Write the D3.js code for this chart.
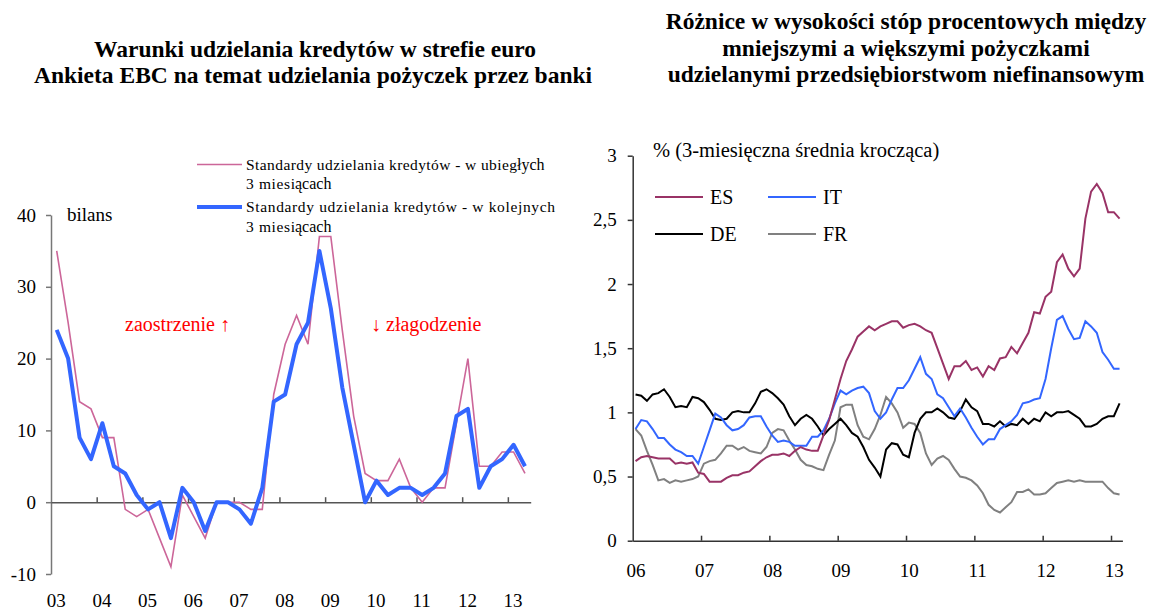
<!DOCTYPE html>
<html>
<head>
<meta charset="utf-8">
<script src="https://cdn.jsdelivr.net/npm/d3@7"></script>
<style>
body { margin: 0; background: #fff; }
svg { display: block; }
text { font-family: "Liberation Serif", "Times New Roman", serif; }
</style>
</head>
<body>
<div id="chart"></div>
<script>
// left panel: quarterly balances, 2003 Q1 - 2013 Q2
const leftYears = ["03", "04", "05", "06", "07", "08", "09", "10", "11", "12", "13"];
const pastStandards = [35, 25, 14, 13, 9, 9, -1, -2, -1, -5, -9, 1, -2, -5, 0, 0, 0, -1, -1, 15, 22,
    26, 22, 37, 37, 24, 12, 4, 3, 3, 6, 2, 0, 2, 2, 11, 20, 5, 5, 7, 7, 4];
const nextStandards = [24, 20, 9, 6, 11, 5, 4, 1, -1, 0, -5, 2, 0, -4, 0, 0, -1, -3, 2, 14, 15,
    22, 25, 35, 27, 16, 8, 0, 3, 1, 2, 2, 1, 2, 4, 12, 13, 2, 5, 6, 8, 5];
const leftTicks = [-10, 0, 10, 20, 30, 40];

// right panel: monthly spreads, Jan 2006 - Feb 2013
const rightYears = ["06", "07", "08", "09", "10", "11", "12", "13"];
const es = [0.62, 0.65, 0.66, 0.65, 0.64, 0.64, 0.64, 0.60, 0.61, 0.60, 0.61, 0.53, 0.52, 0.46, 0.46, 0.46,
    0.49, 0.51, 0.51, 0.53, 0.54, 0.58, 0.62, 0.65, 0.67, 0.67, 0.68, 0.66, 0.70, 0.73, 0.71, 0.70, 0.70,
    0.82, 0.94, 1.10, 1.26, 1.40, 1.49, 1.59, 1.63, 1.67, 1.64,
    1.67, 1.69, 1.71, 1.71, 1.66, 1.68, 1.69, 1.67, 1.64, 1.62, 1.50, 1.38, 1.26, 1.36, 1.36, 1.40, 1.33,
    1.35, 1.28, 1.36, 1.33, 1.42, 1.43, 1.51, 1.46, 1.54, 1.62, 1.78, 1.77, 1.90, 1.94, 2.17, 2.23, 2.12,
    2.06, 2.12, 2.51, 2.72, 2.78, 2.71, 2.56, 2.56, 2.51];
const it = [0.87, 0.94, 0.93, 0.87, 0.80, 0.80, 0.75, 0.71, 0.69, 0.66, 0.66, 0.60, 0.73, 0.86, 0.99, 0.96,
    0.90, 0.86, 0.87, 0.90, 0.96, 0.97, 0.97, 0.89, 0.82, 0.77, 0.78, 0.77, 0.74, 0.74, 0.74, 0.81, 0.81,
    0.86, 0.95, 1.07, 1.17, 1.14, 1.17, 1.19, 1.20, 1.15, 1.01,
    0.95, 1.00, 1.10, 1.19, 1.19, 1.25, 1.34, 1.43, 1.30, 1.26, 1.14, 1.11, 1.04, 0.97, 1.03, 0.96, 0.88,
    0.81, 0.75, 0.79, 0.79, 0.87, 0.90, 0.93, 0.98, 1.07, 1.08, 1.10, 1.11, 1.26, 1.50, 1.72, 1.75, 1.65,
    1.57, 1.58, 1.71, 1.67, 1.62, 1.47, 1.41, 1.34, 1.34];
const de = [1.14, 1.13, 1.09, 1.14, 1.15, 1.18, 1.12, 1.04, 1.05, 1.04, 1.12, 1.11, 1.08, 1.02, 0.95, 0.94,
    0.95, 1.00, 1.01, 1.00, 1.00, 1.07, 1.16, 1.18, 1.15, 1.11, 1.06, 0.97, 0.90, 0.95, 0.98, 0.95, 0.89,
    0.82, 0.87, 0.91, 0.95, 0.90, 0.84, 0.81, 0.73, 0.63, 0.57,
    0.50, 0.71, 0.76, 0.75, 0.67, 0.65, 0.84, 0.95, 1.00, 1.00, 1.03, 1.00, 0.96, 0.95, 1.01, 1.10, 1.04,
    1.01, 0.91, 0.91, 0.89, 0.93, 0.89, 0.91, 0.90, 0.95, 0.91, 0.95, 0.93, 1.00, 0.97, 1.00, 1.00, 1.01,
    0.98, 0.95, 0.89, 0.89, 0.91, 0.95, 0.97, 0.97, 1.07];
const fr = [0.87, 0.82, 0.70, 0.59, 0.47, 0.48, 0.45, 0.47, 0.46, 0.47, 0.48, 0.50, 0.60, 0.62, 0.63, 0.68,
    0.74, 0.74, 0.71, 0.73, 0.70, 0.69, 0.68, 0.73, 0.84, 0.87, 0.86, 0.78, 0.71, 0.63, 0.59, 0.58, 0.56,
    0.55, 0.67, 0.78, 1.04, 1.06, 1.06, 0.90, 0.81, 0.79, 0.87,
    0.98, 1.12, 1.07, 1.00, 0.88, 0.92, 0.91, 0.84, 0.68, 0.59, 0.64, 0.66, 0.63, 0.56, 0.50, 0.49, 0.47,
    0.43, 0.37, 0.28, 0.24, 0.22, 0.26, 0.30, 0.38, 0.38, 0.40, 0.36, 0.36, 0.37, 0.41, 0.45, 0.46, 0.47,
    0.46, 0.47, 0.46, 0.46, 0.46, 0.46, 0.41, 0.37, 0.36];
const rightTicks = [0, 0.5, 1, 1.5, 2, 2.5, 3];

const width = 1154, height = 609;

const svg = d3.select("#chart")
    .append("svg")
    .attr("width", width)
    .attr("height", height)
    .attr("viewBox", [0, 0, width, height]);

// ---------- titles ----------
const titles = [
    {x: 315, y: 57, t: "Warunki udzielania kredytów w strefie euro"},
    {x: 313, y: 83, t: "Ankieta EBC na temat udzielania pożyczek przez banki"},
    {x: 906, y: 29, t: "Różnice w wysokości stóp procentowych między"},
    {x: 906, y: 56, t: "mniejszymi a większymi pożyczkami"},
    {x: 906, y: 82, t: "udzielanymi przedsiębiorstwom niefinansowym"}
];
svg.append("g")
    .selectAll("text")
    .data(titles)
    .join("text")
    .attr("x", d => d.x)
    .attr("y", d => d.y)
    .attr("text-anchor", "middle")
    .attr("font-weight", "bold")
    .attr("font-size", 23.5)
    .text(d => d.t);

// ---------- left panel ----------
const lx = d3.scaleLinear()
    .domain([-0.5, pastStandards.length - 0.5])
    .range([51, 530.7]);
const ly = d3.scaleLinear()
    .domain([-10, 40])
    .range([574, 215]);

const lyAxis = svg.append("g")
    .attr("transform", "translate(51,0)")
    .call(d3.axisLeft(ly).tickValues(leftTicks).tickSize(5).tickSizeOuter(0).tickPadding(10)
        .tickFormat(d => String(d)));
lyAxis.select(".domain").attr("stroke", "#777").attr("stroke-width", 1.5);
lyAxis.selectAll(".tick line").attr("stroke", "#777").attr("stroke-width", 1.5);
lyAxis.selectAll(".tick text").attr("font-size", 19).attr("font-family", "Liberation Serif").attr("fill", "#000");

const lxAxis = svg.append("g")
    .attr("transform", `translate(0,${ly(0)})`)
    .call(d3.axisBottom(lx).tickValues(d3.range(3.5, pastStandards.length, 4))
        .tickSize(-5).tickSizeOuter(0).tickFormat(""));
lxAxis.select(".domain").attr("stroke", "#555").attr("stroke-width", 1.5);
lxAxis.selectAll(".tick line").attr("stroke", "#555").attr("stroke-width", 1.5);

const lxLabels = svg.append("g")
    .attr("transform", "translate(-1,591)")
    .call(d3.axisBottom(lx).tickValues(d3.range(0, pastStandards.length, 4))
        .tickSize(0).tickPadding(2).tickFormat((d, i) => leftYears[i]));
lxLabels.select(".domain").remove();
lxLabels.selectAll(".tick text").attr("font-size", 19).attr("font-family", "Liberation Serif").attr("fill", "#000");

const lline = d3.line().x((d, i) => lx(i)).y(d => ly(d));

svg.append("path")
    .datum(pastStandards)
    .attr("fill", "none")
    .attr("stroke", "#CC6699")
    .attr("stroke-width", 1.6)
    .attr("d", lline);

svg.append("path")
    .datum(nextStandards)
    .attr("fill", "none")
    .attr("stroke", "#3366FF")
    .attr("stroke-width", 4)
    .attr("stroke-linejoin", "round")
    .attr("d", lline);

svg.append("text")
    .attr("x", 67).attr("y", 221)
    .attr("font-size", 19)
    .text("bilans");

svg.append("text")
    .attr("x", 125).attr("y", 331)
    .attr("font-size", 20)
    .attr("fill", "#FF0000")
    .text("zaostrzenie ↑");

svg.append("text")
    .attr("x", 371).attr("y", 331)
    .attr("font-size", 20)
    .attr("fill", "#FF0000")
    .text("↓ złagodzenie");

// left legend
const leftLegend = [
    {y: 164.5, color: "#CC6699", w: 1.6,
     rows: [[{t: "Standardy udzielania kredytów - w ubieg", len: 271}, {t: "łych", sans: true}],
            [{t: "3 miesi", len: 49}, {t: "ącach", sans: true}]]},
    {y: 207, color: "#3366FF", w: 4,
     rows: [[{t: "Standardy udzielania kredytów - w kolejnych", len: 309}],
            [{t: "3 miesi", len: 49}, {t: "ącach", sans: true}]]}
];
const lg = svg.append("g");
leftLegend.forEach(item => {
    lg.append("line")
        .attr("x1", 197).attr("x2", 242)
        .attr("y1", item.y).attr("y2", item.y)
        .attr("stroke", item.color)
        .attr("stroke-width", item.w);
    item.rows.forEach((row, r) => {
        let x = 246;
        const y = item.y + 5 + r * 19.5;
        row.forEach(part => {
            const t = lg.append("text")
                .attr("x", x).attr("y", y)
                .attr("font-size", part.sans ? 16 : 15.5)
                .text(part.t);
            if (part.sans) {
                t.attr("font-family", "Liberation Sans, Arial, sans-serif");
            } else {
                t.attr("textLength", part.len).attr("lengthAdjust", "spacing");
            }
            x += part.len || t.node().getComputedTextLength();
        });
    });
});

// ---------- right panel ----------
const rx = d3.scaleLinear()
    .domain([-0.5, es.length - 0.5])
    .range([632.7, 1122.4]);
const ry = d3.scaleLinear()
    .domain([0, 3])
    .range([540.7, 155.7]);

const ryAxis = svg.append("g")
    .attr("transform", "translate(632.7,0)")
    .call(d3.axisLeft(ry).tickValues(rightTicks).tickSize(5).tickSizeOuter(0).tickPadding(11)
        .tickFormat(d => String(d).replace(".", ",")));
ryAxis.select(".domain").attr("stroke", "#333").attr("stroke-width", 1.5);
ryAxis.selectAll(".tick line").attr("stroke", "#333").attr("stroke-width", 1.5);
ryAxis.selectAll(".tick text").attr("font-size", 19).attr("font-family", "Liberation Serif").attr("fill", "#000");

const rxAxis = svg.append("g")
    .attr("transform", `translate(0,${ry(0)})`)
    .call(d3.axisBottom(rx).tickValues(d3.range(11.5, es.length, 12))
        .tickSize(-5).tickSizeOuter(0).tickFormat(""));
rxAxis.select(".domain").attr("stroke", "#333").attr("stroke-width", 1.5);
rxAxis.selectAll(".tick line").attr("stroke", "#333").attr("stroke-width", 1.5);

const rxLabels = svg.append("g")
    .attr("transform", "translate(0,561)")
    .call(d3.axisBottom(rx).tickValues(d3.range(0, es.length, 12))
        .tickSize(0).tickPadding(2).tickFormat((d, i) => rightYears[i]));
rxLabels.select(".domain").remove();
rxLabels.selectAll(".tick text").attr("font-size", 19).attr("font-family", "Liberation Serif").attr("fill", "#000");

svg.append("text")
    .attr("x", 653).attr("y", 157)
    .attr("font-size", 20.5)
    .text("% (3-miesięczna średnia krocząca)");

const rightSeries = [
    {name: "FR", values: fr, color: "#808080", lx: 768, ly: 234},
    {name: "DE", values: de, color: "#000000", lx: 655, ly: 234},
    {name: "IT", values: it, color: "#3366FF", lx: 768, ly: 197},
    {name: "ES", values: es, color: "#993366", lx: 655, ly: 197}
];

const rline = d3.line().x((d, i) => rx(i)).y(d => ry(d));

svg.append("g")
    .selectAll("path")
    .data(rightSeries)
    .join("path")
    .attr("fill", "none")
    .attr("stroke", d => d.color)
    .attr("stroke-width", 2)
    .attr("d", d => rline(d.values));

const rlg = svg.append("g")
    .selectAll("g")
    .data(rightSeries)
    .join("g");
rlg.append("line")
    .attr("x1", d => d.lx).attr("x2", d => d.lx + 48)
    .attr("y1", d => d.ly).attr("y2", d => d.ly)
    .attr("stroke", d => d.color)
    .attr("stroke-width", 2);
rlg.append("text")
    .attr("x", d => d.lx + 55).attr("y", d => d.ly + 7)
    .attr("font-size", 20)
    .text(d => d.name);
</script>
</body>
</html>
